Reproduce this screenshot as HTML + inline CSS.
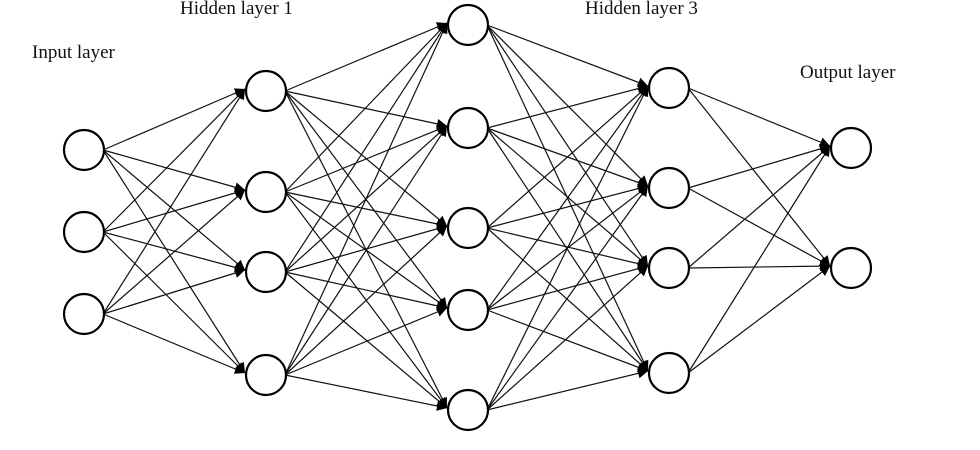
<!DOCTYPE html>
<html><head><meta charset="utf-8"><style>
html,body{margin:0;padding:0;background:#fff;width:980px;height:450px;overflow:hidden}
svg{display:block}
text{font-family:"Liberation Serif",serif;font-size:19px;fill:#111}
</style></head><body>
<svg id="s" width="980" height="450" xmlns="http://www.w3.org/2000/svg">
<defs><marker id="a" viewBox="0 0 10 10" refX="10" refY="5" markerWidth="12" markerHeight="10" markerUnits="userSpaceOnUse" orient="auto"><path d="M0,0L10,5L0,10z" fill="#000"/></marker></defs>
<text x="32" y="58">Input layer</text>
<text x="180" y="14">Hidden layer 1</text>
<text x="585" y="14">Hidden layer 3</text>
<text x="800" y="78">Output layer</text>
<g id="L" stroke="#111" stroke-width="1.2"></g>
<g id="N" fill="#fff" stroke="#000" stroke-width="2.2"></g>
</svg>
<script>
var layers=[[84,[150,232,314]],[266,[91,192,272,375]],[468,[25,128,228,310,410]],[669,[88,188,268,373]],[851,[148,268]]];
var r=20,L=document.getElementById('L'),N=document.getElementById('N'),ns='http://www.w3.org/2000/svg';
for(var i=0;i<layers.length-1;i++){var a=layers[i],b=layers[i+1];
a[1].forEach(function(y1){b[1].forEach(function(y2){
var l=document.createElementNS(ns,'line');
l.setAttribute('x1',a[0]+r-1);l.setAttribute('y1',y1);
l.setAttribute('x2',b[0]-r-1);l.setAttribute('y2',y2-2);
l.setAttribute('marker-end','url(#a)');L.appendChild(l);});});}
layers.forEach(function(a){a[1].forEach(function(y){var c=document.createElementNS(ns,'circle');
c.setAttribute('cx',a[0]);c.setAttribute('cy',y);c.setAttribute('r',r);N.appendChild(c);});});
</script>
</body></html>
